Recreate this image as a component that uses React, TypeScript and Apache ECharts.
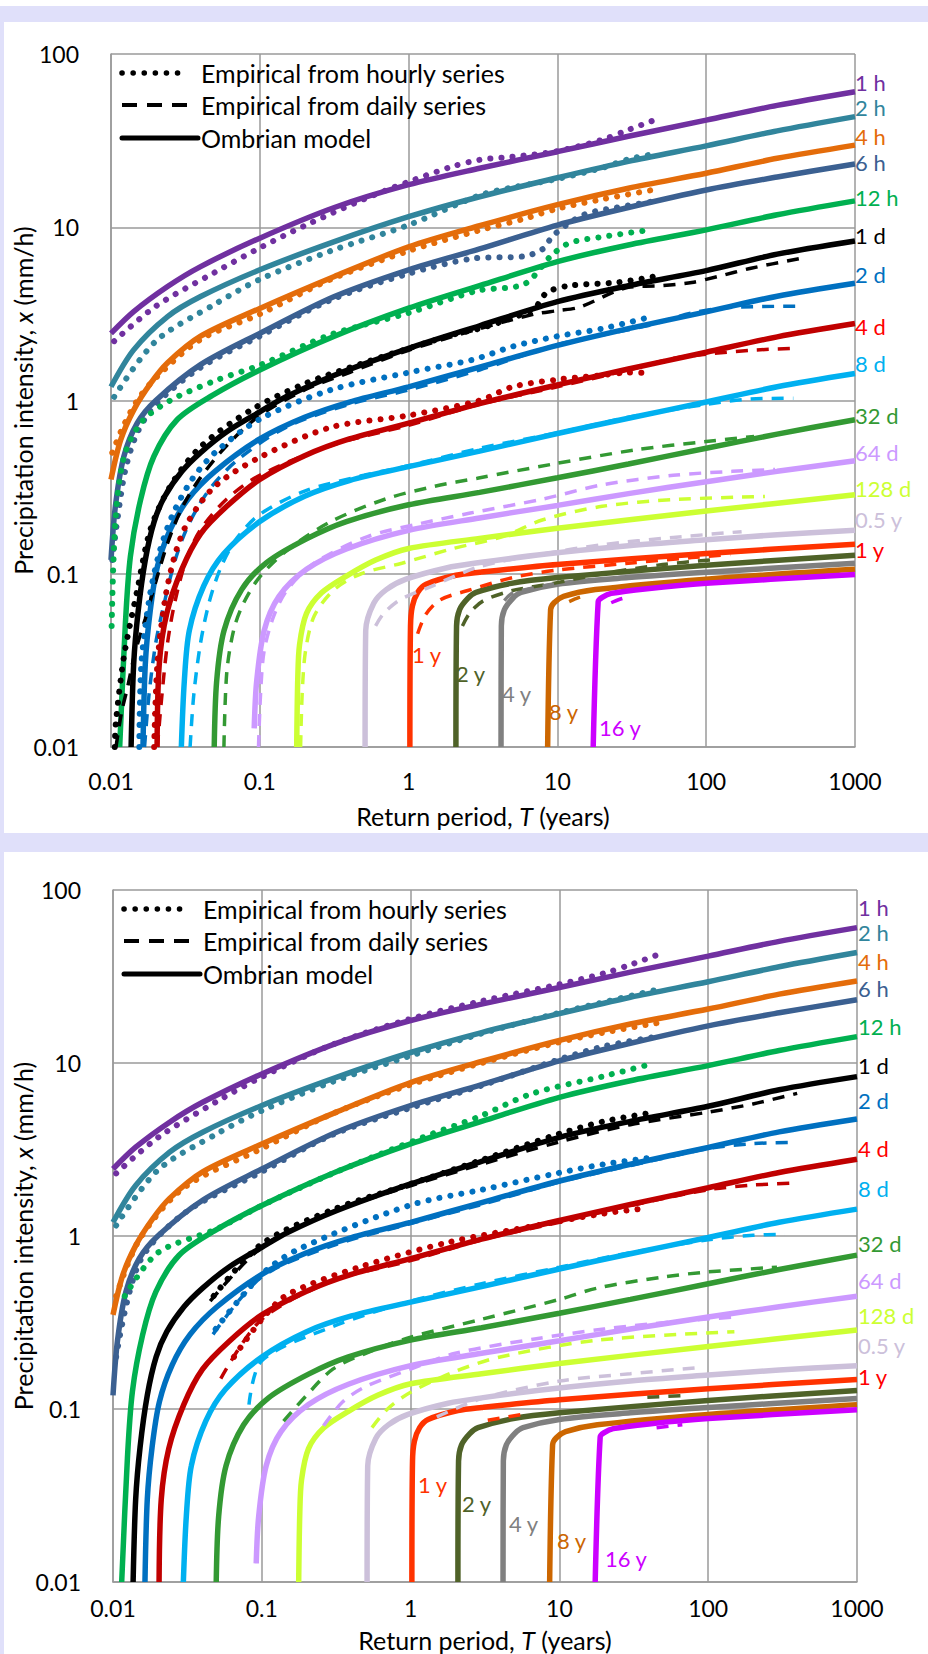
import React, { useEffect, useRef } from "react";
import * as echarts from "echarts";

// ---------- categories ----------
const durations = ["1 h", "2 h", "4 h", "6 h", "12 h", "1 d", "2 d", "4 d", "8 d", "32 d", "64 d", "128 d", "0.5 y", "1 y", "2 y", "4 y", "8 y", "16 y"];
const lineColors = ["#7030A0", "#31859C", "#E46C0A", "#3B6091", "#00B050", "#000000", "#0070C0", "#C00000", "#00B0F0", "#339933", "#CC99FF", "#CCFF33", "#CCC0DA", "#FF3300", "#4F6228", "#808080", "#CC6600", "#CC00FF"];
const labelColors = ["#7030A0", "#31859C", "#E46C0A", "#3B6091", "#00B050", "#000000", "#0070C0", "#FF0000", "#00B0F0", "#339933", "#CC99FF", "#CCFF33", "#CCC0DA", "#FF0000", "#4F6228", "#808080", "#CC6600", "#CC00FF"];

// ---------- axis ticks ----------
const xTicks = [0.01, 0.1, 1, 10, 100, 1000];
const yTicks = [0.01, 0.1, 1, 10, 100];

// ---------- Ombrian model curves [T (years), x (mm/h)] ----------
const m1h = [[0.01, 2.44], [0.0142, 3.26], [0.024, 4.55], [0.04, 5.93], [0.1, 8.65], [0.317, 13.0], [1, 17.6], [3, 21.9], [10, 27.3], [30, 33.5], [100, 41.5], [300, 50.5], [1000, 60.6]];
const m2h = [[0.01, 1.2], [0.0142, 1.96], [0.024, 3.05], [0.04, 3.98], [0.1, 5.68], [0.317, 8.26], [1, 11.5], [3, 15.0], [10, 19.3], [30, 24.0], [100, 29.5], [300, 36.0], [1000, 43.5]];
const m4h = [[0.01, 0.35], [0.0116, 0.59], [0.0142, 0.88], [0.0184, 1.25], [0.024, 1.65], [0.04, 2.35], [0.1, 3.4], [0.317, 5.2], [1, 7.7], [3, 10.2], [10, 13.5], [30, 16.8], [100, 20.5], [300, 25.0], [1000, 29.8]];
const m6h = [[0.01, 0.12], [0.0107, 0.245], [0.0122, 0.475], [0.015, 0.74], [0.02, 1.0], [0.04, 1.61], [0.1, 2.44], [0.317, 3.98], [1, 5.68], [3, 7.5], [10, 10.3], [30, 13.0], [100, 16.4], [300, 19.5], [1000, 23.2]];
const m12h = [[0.01144, 0.01], [0.0125, 0.052], [0.0135, 0.126], [0.0158, 0.267], [0.0194, 0.475], [0.0278, 0.774], [0.048, 1.07], [0.1, 1.5], [0.317, 2.35], [1, 3.41], [3, 4.6], [10, 6.33], [30, 7.9], [100, 9.66], [300, 11.8], [1000, 14.2]];
const m1d = [[0.01365, 0.01], [0.0142, 0.03], [0.0152, 0.06], [0.017, 0.12], [0.0195, 0.2], [0.023, 0.28], [0.03, 0.39], [0.04, 0.5], [0.06, 0.66], [0.1, 0.86], [0.15, 1.05], [0.317, 1.4], [1, 2.0], [3, 2.7], [10, 3.72], [30, 4.6], [100, 5.62], [300, 7.0], [1000, 8.34]];
const m2d = [[0.0164, 0.01], [0.017, 0.03], [0.0183, 0.06], [0.0205, 0.11], [0.025, 0.18], [0.033, 0.27], [0.05, 0.39], [0.1, 0.6], [0.2, 0.8], [0.4, 0.98], [1, 1.2], [3, 1.56], [10, 2.08], [30, 2.6], [100, 3.25], [300, 4.0], [1000, 4.75]];
const m4d = [[0.0204, 0.01], [0.0211, 0.03], [0.0237, 0.059], [0.0299, 0.106], [0.04, 0.17], [0.06, 0.245], [0.1, 0.35], [0.2, 0.48], [0.4, 0.6], [1, 0.74], [3, 0.96], [10, 1.23], [30, 1.52], [100, 1.9], [300, 2.33], [1000, 2.78]];
const m8d = [[0.0297, 0.01], [0.0311, 0.024], [0.0336, 0.047], [0.042, 0.085], [0.057, 0.13], [0.1, 0.2], [0.2, 0.28], [0.4, 0.345], [1, 0.415], [3, 0.51], [10, 0.645], [30, 0.79], [100, 0.98], [300, 1.2], [1000, 1.43]];
const m32d = [[0.0494, 0.01], [0.0513, 0.024], [0.0575, 0.047], [0.0755, 0.081], [0.111, 0.116], [0.206, 0.159], [0.382, 0.2], [1, 0.25], [3, 0.295], [10, 0.358], [30, 0.43], [100, 0.53], [300, 0.64], [1000, 0.775]];
const m64d = [[0.0917, 0.0128], [0.0953, 0.024], [0.107, 0.047], [0.1346, 0.074], [0.206, 0.106], [0.382, 0.139], [1, 0.178], [3, 0.21], [10, 0.248], [30, 0.29], [100, 0.34], [300, 0.39], [1000, 0.449]];
const m128d = [[0.177, 0.01], [0.18, 0.025], [0.185, 0.039], [0.206, 0.059], [0.26, 0.0776], [0.382, 0.097], [0.6, 0.12], [1, 0.14], [3, 0.16], [10, 0.183], [100, 0.23], [1000, 0.286]];
const m05y = [[0.51, 0.01], [0.515, 0.047], [0.583, 0.0676], [0.708, 0.081], [0.96, 0.093], [1.79, 0.108], [3, 0.116], [8.4, 0.13], [30, 0.145], [100, 0.157], [300, 0.168], [1000, 0.178]];
const m1y = [[1.02, 0.01], [1.03, 0.05], [1.06, 0.065], [1.15, 0.078], [1.31, 0.087], [2.08, 0.098], [3, 0.102], [10, 0.113], [100, 0.131], [1000, 0.148]];
const m2y = [[2.08, 0.01], [2.1, 0.05], [2.2, 0.062], [2.5, 0.072], [2.84, 0.078], [4.9, 0.088], [10, 0.095], [100, 0.112], [1000, 0.128]];
const m4y = [[4.18, 0.01], [4.2, 0.05], [4.4, 0.062], [5.0, 0.072], [5.7, 0.078], [10, 0.087], [30, 0.095], [100, 0.102], [1000, 0.115]];
const m8y = [[8.6, 0.01], [9.0, 0.062], [9.5, 0.068], [11, 0.074], [18, 0.081], [100, 0.093], [1000, 0.106]];
const m16y = [[17.4, 0.01], [18.8, 0.069], [20, 0.073], [23, 0.077], [40, 0.082], [100, 0.088], [1000, 0.099]];

// ---------- top panel: empirical from hourly series ----------
const h1hTop = [[0.0105, 2.2], [0.02, 3.5], [0.05, 5.5], [0.1, 7.6], [0.2, 10.2], [0.5, 14.5], [1, 18.3], [2, 22.5], [3, 24.5], [5, 25.5], [10, 27.5], [20, 32], [30, 36.5], [45, 41.6]];
const h2hTop = [[0.0105, 1.05], [0.02, 2.2], [0.05, 3.6], [0.1, 5.0], [0.3, 7.3], [1, 10.3], [3, 15.3], [5, 17], [10, 19], [20, 22], [30, 24.7], [45, 26.5]];
const h4hTop = [[0.0102, 0.5], [0.012, 0.7], [0.015, 1.0], [0.02, 1.35], [0.04, 2.25], [0.1, 3.15], [0.3, 5.0], [1, 7.3], [3, 9.6], [6, 11.2], [10, 12.8], [20, 14.5], [45, 16.5]];
const h6hTop = [[0.0102, 0.12], [0.011, 0.2], [0.0125, 0.4], [0.015, 0.65], [0.02, 0.95], [0.04, 1.55], [0.1, 2.35], [0.3, 3.8], [1, 5.4], [2.7, 6.6], [6, 6.8], [8, 7.5], [9.4, 9.0], [15, 11.8], [25, 13], [44, 14.1]];
const h12hTop = [[0.0101, 0.05], [0.0107, 0.2], [0.0122, 0.47], [0.016, 0.75], [0.025, 1.0], [0.05, 1.3], [0.1, 1.6], [0.3, 2.4], [1, 3.2], [2.9, 4.3], [6, 4.7], [9, 6.8], [12, 8.1], [20, 8.8], [44, 9.7]];
const h1dTop = [[0.0106, 0.01], [0.0108, 0.014], [0.0122, 0.033], [0.015, 0.08], [0.0184, 0.18], [0.025, 0.32], [0.04, 0.54], [0.087, 0.88], [0.2, 1.25], [0.5, 1.65], [1, 2.0], [2, 2.4], [3, 2.6], [5, 3.0], [7, 3.4], [8.5, 4.2], [12, 4.6], [25, 4.8], [45, 5.2]];
const h2dTop = [[0.0155, 0.01], [0.016, 0.03], [0.018, 0.07], [0.021, 0.13], [0.026, 0.22], [0.035, 0.35], [0.05, 0.5], [0.1, 0.78], [0.3, 1.15], [1, 1.45], [2.7, 1.72], [5, 2.05], [10, 2.35], [20, 2.6], [43, 3.05]];
const h4dTop = [[0.0195, 0.01], [0.0205, 0.03], [0.023, 0.07], [0.027, 0.13], [0.033, 0.2], [0.05, 0.32], [0.1, 0.47], [0.3, 0.7], [1, 0.82], [3, 1.0], [5, 1.2], [10, 1.32], [20, 1.4], [30, 1.45], [43, 1.44]];

// ---------- top panel: empirical from daily series ----------
const d1dTop = [[0.0108, 0.01], [0.0118, 0.016], [0.0129, 0.022], [0.0145, 0.035], [0.017, 0.055], [0.02, 0.09], [0.024, 0.15], [0.03, 0.24], [0.04, 0.36], [0.06, 0.55], [0.1, 0.82], [0.2, 1.15], [0.4, 1.45], [1, 1.95], [3, 2.6], [7, 3.15], [10, 3.3], [14, 3.45], [30, 4.5], [50, 4.6], [80, 4.8], [120, 5.2], [200, 5.8], [430, 6.6]];
const d2dTop = [[0.0168, 0.01], [0.018, 0.02], [0.02, 0.04], [0.023, 0.07], [0.027, 0.12], [0.033, 0.19], [0.045, 0.3], [0.07, 0.45], [0.15, 0.7], [0.4, 0.95], [1, 1.15], [3, 1.5], [10, 2.1], [40, 2.7], [80, 3.2], [150, 3.45], [430, 3.5]];
const d4dTop = [[0.0205, 0.01], [0.022, 0.02], [0.024, 0.04], [0.027, 0.07], [0.032, 0.12], [0.04, 0.18], [0.06, 0.27], [0.1, 0.37], [0.3, 0.55], [1, 0.72], [3, 0.95], [10, 1.2], [30, 1.5], [60, 1.75], [100, 1.85], [200, 1.95], [400, 2.0]];
const d8dTop = [[0.034, 0.01], [0.036, 0.02], [0.04, 0.04], [0.046, 0.07], [0.055, 0.11], [0.07, 0.16], [0.1, 0.22], [0.2, 0.3], [0.5, 0.37], [1, 0.42], [3, 0.53], [10, 0.65], [30, 0.8], [100, 0.95], [200, 1.02], [385, 1.03]];
const d32dTop = [[0.0574, 0.01], [0.06, 0.027], [0.067, 0.048], [0.078, 0.068], [0.1, 0.096], [0.153, 0.137], [0.3, 0.2], [0.7, 0.27], [1.5, 0.32], [2.9, 0.356], [9.4, 0.43], [34, 0.52], [100, 0.58], [210, 0.62]];
const d64dTop = [[0.098, 0.01], [0.1014, 0.021], [0.107, 0.036], [0.124, 0.057], [0.153, 0.081], [0.232, 0.115], [0.53, 0.164], [1.2, 0.195], [2.6, 0.224], [8, 0.27], [20, 0.326], [60, 0.37], [150, 0.39], [290, 0.4]];
const d128dTop = [[0.188, 0.01], [0.193, 0.021], [0.203, 0.036], [0.232, 0.057], [0.316, 0.081], [0.48, 0.1], [0.9, 0.115], [2, 0.14], [4.3, 0.164], [8, 0.205], [20, 0.245], [60, 0.268], [248, 0.279]];
const d05yTop = [[0.6, 0.05], [0.68, 0.059], [0.88, 0.071], [1.4, 0.084], [3, 0.11], [8, 0.13], [20, 0.147], [60, 0.162], [173, 0.175]];
const d1yTop = [[1.15, 0.045], [1.3, 0.058], [1.63, 0.0707], [2.5, 0.08], [5, 0.095], [10, 0.105], [30, 0.115], [80, 0.124], [145, 0.129]];
const d2yTop = [[2.3, 0.05], [2.6, 0.06], [3.2, 0.07], [5, 0.08], [9.4, 0.088], [20, 0.1], [51, 0.113], [106, 0.12]];
const d4yTop = [[4.4, 0.07], [5, 0.0773], [7, 0.083], [9.5, 0.087]];
const d8yTop = [[12, 0.069], [14, 0.073], [16, 0.075]];
const d16yTop = [[23, 0.068], [26, 0.071], [29, 0.073]];

// ---------- bottom panel: empirical from hourly series ----------
const h1hBot = [[0.0105, 2.3], [0.02, 3.7], [0.05, 6.0], [0.1, 8.3], [0.3, 12.8], [1, 18.0], [3, 22.8], [10, 28.5], [20, 33], [30, 37], [45, 42]];
const h2hBot = [[0.0105, 1.15], [0.02, 2.4], [0.05, 3.9], [0.1, 5.3], [0.3, 7.8], [1, 11], [3, 14.8], [10, 19.5], [20, 22.5], [45, 26.5]];
const h4hBot = [[0.0105, 0.45], [0.015, 0.95], [0.03, 1.9], [0.1, 3.2], [0.3, 5.1], [1, 7.5], [3, 10.0], [10, 13.2], [20, 15], [45, 17]];
const h6hBot = [[0.0105, 0.2], [0.015, 0.7], [0.03, 1.35], [0.1, 2.35], [0.3, 3.85], [1, 5.5], [3, 7.4], [10, 10.5], [20, 12.5], [45, 14.2]];
const h12hBot = [[0.012, 0.45], [0.02, 0.8], [0.05, 1.1], [0.1, 1.5], [0.3, 2.3], [1.21, 3.72], [2.84, 4.87], [6.6, 6.67], [20, 8.4], [42, 9.9]];
const h1dBot = [[0.0475, 0.45], [0.1, 0.9], [0.3, 1.42], [1, 2.0], [3, 2.75], [10, 3.9], [20, 4.6], [44, 5.2]];
const h2dBot = [[0.049, 0.29], [0.1, 0.6], [0.177, 0.84], [1, 1.51], [3, 1.85], [10, 2.32], [20, 2.6], [42, 2.84]];
const h4dBot = [[0.065, 0.2], [0.1, 0.33], [0.15, 0.46], [0.45, 0.66], [1.8, 0.92], [7, 1.15], [20, 1.35], [39, 1.45]];

// ---------- bottom panel: empirical from daily series ----------
const d1dBot = [[0.045, 0.42], [0.1, 0.86], [0.3, 1.38], [1, 1.95], [3, 2.6], [10, 3.5], [30, 4.4], [100, 5.2], [200, 5.8], [396, 6.67]];
const d2dBot = [[0.047, 0.27], [0.1, 0.58], [0.3, 0.88], [1, 1.18], [3, 1.52], [10, 2.05], [40, 2.7], [100, 3.2], [200, 3.42], [381, 3.47]];
const d4dBot = [[0.053, 0.15], [0.1, 0.33], [0.3, 0.55], [1, 0.72], [3, 0.95], [10, 1.2], [30, 1.5], [100, 1.85], [200, 1.97], [367, 2.02]];
const d8dBot = [[0.082, 0.106], [0.1, 0.19], [0.3, 0.3], [1, 0.42], [3, 0.53], [10, 0.66], [30, 0.8], [100, 0.95], [200, 1.01], [327, 1.02]];
const d32dBot = [[0.14, 0.085], [0.2, 0.12], [0.3, 0.17], [0.5, 0.21], [1, 0.26], [3, 0.33], [10, 0.43], [18, 0.5], [50, 0.58], [100, 0.62], [290, 0.66]];
const d64dBot = [[0.26, 0.08], [0.35, 0.11], [0.5, 0.135], [1, 0.17], [2, 0.21], [7, 0.255], [20, 0.29], [60, 0.32], [150, 0.34]];
const d128dBot = [[0.55, 0.078], [0.7, 0.1], [1, 0.125], [2, 0.165], [4, 0.2], [18, 0.25], [150, 0.28]];
const d05yBot = [[1.5, 0.09], [3, 0.115], [10, 0.145], [30, 0.16], [91, 0.174]];
const d1yBot = [[3.3, 0.086], [5.6, 0.093]];
const d2yBot = [[39, 0.117], [73, 0.12]];
const d4yBot = [[75, 0.1], [105, 0.102]];
const d8yBot = [[11, 0.074], [13, 0.077]];
const d16yBot = [[45, 0.078], [67, 0.081]];

// ---------- legend ----------
const legendTexts = ["Empirical from hourly series", "Empirical from daily series", "Ombrian model"];

// ---------- layout (pixels) ----------
const W = 928;
const H = 1654;
const FONT = "Lato, 'Liberation Sans', sans-serif";
const TICK_FS = 23;
const TITLE_FS = 25;
const LEGEND_FS = 25;
const LABEL_FS = 22;
const INNER_FS = 22;
const panelLayout = [
  { left: 111, top: 54, height: 693, xLabelMargin: 22, xTitleY: 816, labelX: 855, legendY: [73, 105, 138], labelY: [82, 107, 136, 162, 197, 235, 274, 326, 363, 415, 452, 488, 519, 549], innerXY: [[412, 654], [456, 673], [502, 693], [549, 711], [599, 727]] },
  { left: 113, top: 890, height: 692, xLabelMargin: 14, xTitleY: 1640, labelX: 858, legendY: [909, 941, 974], labelY: [907, 932, 961, 988, 1026, 1065, 1100, 1148, 1188, 1243, 1280, 1315, 1345, 1376], innerXY: [[418, 1484], [462, 1503], [509, 1523], [557, 1540], [605, 1558]] },
];
const GRID_W = 744;

const models = [m1h, m2h, m4h, m6h, m12h, m1d, m2d, m4d, m8d, m32d, m64d, m128d, m05y, m1y, m2y, m4y, m8y, m16y];
const hourlyPanels = [
  [h1hTop, h2hTop, h4hTop, h6hTop, h12hTop, h1dTop, h2dTop, h4dTop],
  [h1hBot, h2hBot, h4hBot, h6hBot, h12hBot, h1dBot, h2dBot, h4dBot],
];
const dailyPanels = [
  [d1dTop, d2dTop, d4dTop, d8dTop, d32dTop, d64dTop, d128dTop, d05yTop, d1yTop, d2yTop, d4yTop, d8yTop, d16yTop],
  [d1dBot, d2dBot, d4dBot, d8dBot, d32dBot, d64dBot, d128dBot, d05yBot, d1yBot, d2yBot, d4yBot, d8yBot, d16yBot],
];
const DAILY_START = 5; // daily series start at "1 d"

function fmt(v: number) {
  return String(Number(v.toPrecision(3)));
}

function buildOption() {
  const grids: any[] = [];
  const xAxes: any[] = [];
  const yAxes: any[] = [];
  const series: any[] = [];
  const graphics: any[] = [];

  panelLayout.forEach((pl, p) => {
    grids.push({ left: pl.left, top: pl.top, width: GRID_W, height: pl.height });
    xAxes.push({
      gridIndex: p, type: "log", logBase: 10, min: xTicks[0], max: xTicks[xTicks.length - 1], splitNumber: 5,
      axisLine: { show: true, onZero: false, lineStyle: { color: "#9A9A9A", width: 1.5 } },
      axisTick: { show: false },
      splitLine: { show: true, lineStyle: { color: "#9A9A9A", width: 1.5 } },
      axisLabel: { fontSize: TICK_FS, fontFamily: FONT, color: "#000", margin: pl.xLabelMargin, formatter: (v: number) => fmt(v) },
    });
    yAxes.push({
      gridIndex: p, type: "log", logBase: 10, min: yTicks[0], max: yTicks[yTicks.length - 1], splitNumber: 4,
      axisLine: { show: true, onZero: false, lineStyle: { color: "#9A9A9A", width: 1.5 } },
      axisTick: { show: false },
      splitLine: { show: true, lineStyle: { color: "#9A9A9A", width: 1.5 } },
      axisLabel: { fontSize: TICK_FS, fontFamily: FONT, color: "#000", margin: 32, formatter: (v: number) => fmt(v) },
    });

    models.forEach((d, i) => {
      series.push({
        name: durations[i] + " model " + p, type: "line", xAxisIndex: p, yAxisIndex: p, data: d,
        symbol: "none", smooth: 0.3, silent: true, z: 2, clip: true,
        lineStyle: { color: lineColors[i], width: 5.5 },
      });
    });
    dailyPanels[p].forEach((d, j) => {
      const i = j + DAILY_START;
      series.push({
        name: durations[i] + " daily " + p, type: "line", xAxisIndex: p, yAxisIndex: p, data: d,
        symbol: "none", smooth: 0.3, silent: true, z: 3, clip: true,
        lineStyle: { color: lineColors[i], width: 3.5, type: [12, 9] },
      });
    });
    hourlyPanels[p].forEach((d, i) => {
      series.push({
        name: durations[i] + " hourly " + p, type: "line", xAxisIndex: p, yAxisIndex: p, data: d,
        symbol: "none", smooth: 0.3, silent: true, z: 4, clip: true,
        lineStyle: { color: lineColors[i], width: 6, type: [0.1, 11], cap: "round" },
      });
    });

    // legend
    const lx = pl.left + 11;
    graphics.push({ type: "line", shape: { x1: lx, y1: pl.legendY[0], x2: lx + 66, y2: pl.legendY[0] }, style: { stroke: "#000", lineWidth: 5.5, lineDash: [0.1, 11], lineCap: "round" }, z: 10 });
    graphics.push({ type: "line", shape: { x1: lx, y1: pl.legendY[1], x2: lx + 70, y2: pl.legendY[1] }, style: { stroke: "#000", lineWidth: 4, lineDash: [15, 10] }, z: 10 });
    graphics.push({ type: "line", shape: { x1: lx, y1: pl.legendY[2], x2: lx + 76, y2: pl.legendY[2] }, style: { stroke: "#000", lineWidth: 5, lineCap: "round" }, z: 10 });
    legendTexts.forEach((t, k) => {
      graphics.push({ type: "text", x: lx + 79, y: pl.legendY[k], style: { text: t, fill: "#000", fontSize: LEGEND_FS, fontFamily: FONT, align: "left", verticalAlign: "middle" }, z: 10 });
    });

    // right-hand labels
    pl.labelY.forEach((y, i) => {
      graphics.push({ type: "text", x: pl.labelX, y, style: { text: durations[i], fill: labelColors[i], fontSize: LABEL_FS, fontFamily: FONT, align: "left", verticalAlign: "middle" }, z: 10 });
    });
    // inner labels for 1 y .. 16 y
    pl.innerXY.forEach((xy, k) => {
      const i = 13 + k;
      graphics.push({ type: "text", x: xy[0], y: xy[1], style: { text: durations[i], fill: i === 13 ? "#FF3300" : labelColors[i], fontSize: INNER_FS, fontFamily: FONT, align: "left", verticalAlign: "middle" }, z: 10 });
    });

    // axis titles
    graphics.push({
      type: "text", x: pl.left + GRID_W / 2, y: pl.xTitleY,
      style: { text: "Return period, {i|T} (years)", rich: { i: { fontStyle: "italic", fontSize: TITLE_FS, fontFamily: FONT, fill: "#000" } }, fill: "#000", fontSize: TITLE_FS, fontFamily: FONT, align: "center", verticalAlign: "middle" }, z: 10,
    });
    graphics.push({
      type: "text", x: 23, y: pl.top + pl.height / 2, rotation: Math.PI / 2,
      style: { text: "Precipitation intensity, {i|x} (mm/h)", rich: { i: { fontStyle: "italic", fontSize: TITLE_FS, fontFamily: FONT, fill: "#000" } }, fill: "#000", fontSize: TITLE_FS, fontFamily: FONT, align: "center", verticalAlign: "middle" }, z: 10,
    });
  });

  return {
    animation: false,
    backgroundColor: "transparent",
    grid: grids,
    xAxis: xAxes,
    yAxis: yAxes,
    series,
    graphic: graphics,
  };
}

export default function App() {
  const ref = useRef<HTMLDivElement>(null);
  useEffect(() => {
    if (!ref.current) return;
    const chart = echarts.init(ref.current, null, { renderer: "svg", width: W, height: H });
    chart.setOption(buildOption() as any);
    return () => chart.dispose();
  }, []);
  const lav = "#E0E0FA";
  return (
    <div style={{ position: "absolute", left: 0, top: 0, width: W, height: H, background: lav, overflow: "hidden" }}>
      <div style={{ position: "absolute", left: 0, top: 0, width: W, height: 6, background: "#fff" }} />
      <div style={{ position: "absolute", left: 4, top: 22, width: W - 4, height: 811, background: "#fff" }} />
      <div style={{ position: "absolute", left: 4, top: 852, width: W - 4, height: H - 852, background: "#fff" }} />
      <div ref={ref} style={{ position: "absolute", left: 0, top: 0, width: W, height: H }} />
    </div>
  );
}
